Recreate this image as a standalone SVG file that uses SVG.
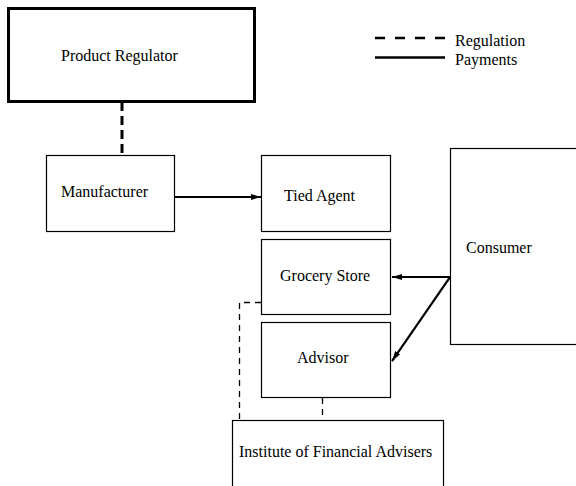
<svg xmlns="http://www.w3.org/2000/svg" width="576" height="486" viewBox="0 0 576 486">
<style>
text{font-family:"Liberation Serif","Times New Roman",serif;font-size:16px;fill:#000}
.box{fill:#fff;stroke:#000;stroke-width:1.2}
.pay{stroke:#000;stroke-width:2.2;fill:none}
.reg{stroke:#000;stroke-width:1.3;stroke-dasharray:6 5;fill:none}
</style>
<defs>
<marker id="ah" viewBox="0 0 10 6" refX="10" refY="3" markerWidth="10" markerHeight="6" markerUnits="userSpaceOnUse" orient="auto">
<path d="M0,0 L10,3 L0,6 Z" fill="#000"/>
</marker>
</defs>
<g id="product-regulator"><rect x="8.5" y="8.5" width="246" height="93" fill="#fff" stroke="#000" stroke-width="3"/><text x="61" y="61">Product Regulator</text></g>
<g id="manufacturer"><rect class="box" x="46.5" y="155.5" width="128" height="76"/><text x="61" y="197">Manufacturer</text></g>
<g id="tied-agent"><rect class="box" x="261.5" y="155.5" width="129" height="76"/><text x="284" y="201">Tied Agent</text></g>
<g id="grocery-store"><rect class="box" x="261.5" y="239.5" width="129" height="75"/><text x="280" y="281">Grocery Store</text></g>
<g id="advisor"><rect class="box" x="261.5" y="322.5" width="129" height="75"/><text x="297" y="363">Advisor</text></g>
<g id="consumer"><rect class="box" x="450.5" y="148.5" width="130" height="196"/><text x="466" y="253">Consumer</text></g>
<g id="institute"><rect class="box" x="232.5" y="420.5" width="211" height="80"/><text x="239" y="457">Institute of Financial Advisers</text></g>
<g id="connectors">
<line x1="122" y1="102" x2="122" y2="155" stroke="#000" stroke-width="3" stroke-dasharray="9 5"/>
<line class="pay" x1="174" y1="197" x2="261" y2="197" marker-end="url(#ah)"/>
<line class="pay" x1="450" y1="277" x2="392" y2="277" marker-end="url(#ah)"/>
<line class="pay" x1="450" y1="277" x2="392" y2="361" marker-end="url(#ah)"/>
<polyline class="reg" points="261,302.5 239.5,302.5 239.5,420"/>
<line class="reg" x1="322.5" y1="398" x2="322.5" y2="420"/>
</g>
<g id="legend">
<line x1="375" y1="38" x2="445" y2="38" stroke="#000" stroke-width="2.5" stroke-dasharray="10 10"/>
<line x1="375" y1="57.5" x2="445" y2="57.5" stroke="#000" stroke-width="2.5"/>
<text x="455" y="46">Regulation</text>
<text x="455" y="65">Payments</text>
</g>
</svg>
